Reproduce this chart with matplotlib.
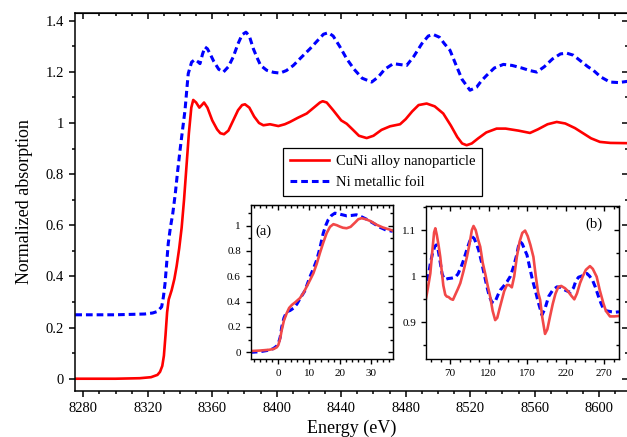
import matplotlib
matplotlib.use("Agg")
import matplotlib.pyplot as plt
from matplotlib.ticker import MultipleLocator, NullFormatter

plt.rcParams.update({
    "font.family": "serif",
    "font.serif": ["Liberation Serif", "DejaVu Serif"],
    "mathtext.fontset": "stix",
})

# ---- main spectra (energy in eV, normalized absorption) ----
cuni_e = [8275, 8300, 8315, 8322, 8326, 8327.6, 8329, 8330, 8331, 8332, 8333, 8334.8, 8336.5,
          8337.9, 8339.5, 8341, 8342.5, 8344, 8345.5, 8347, 8348.2, 8350, 8352, 8353.5, 8354.9,
          8357, 8360, 8363, 8365, 8367.3, 8370, 8373, 8376, 8378.5, 8380.3, 8383, 8386, 8389,
          8391.7, 8395.8, 8401, 8405, 8408.2, 8413, 8418.6, 8423, 8426.8, 8428.5, 8431, 8435,
          8440, 8443.4, 8447, 8451, 8455.8, 8460, 8465, 8470.3, 8476.5, 8480, 8484, 8488, 8493,
          8498, 8503.3, 8508, 8512, 8515, 8517.8, 8521, 8525, 8530, 8536.4, 8542, 8550, 8557.1,
          8562, 8568, 8573.7, 8579, 8585, 8590, 8595, 8600.5, 8607, 8618]
cuni_mu = [0.0, 0.0, 0.002, 0.006, 0.015, 0.027, 0.05, 0.09, 0.17, 0.26, 0.31, 0.346, 0.39,
           0.44, 0.51, 0.59, 0.7, 0.83, 0.96, 1.06, 1.09, 1.08, 1.06, 1.07, 1.08,
           1.06, 1.01, 0.975, 0.96, 0.956, 0.97, 1.01, 1.05, 1.07, 1.073, 1.06, 1.025, 1.0,
           0.991, 0.995, 0.988, 0.995, 1.004, 1.02, 1.037, 1.06, 1.08, 1.085, 1.08, 1.05,
           1.01, 0.997, 0.975, 0.95, 0.941, 0.95, 0.973, 0.987, 0.995, 1.015, 1.045, 1.07, 1.076,
           1.065, 1.037, 0.99, 0.945, 0.92, 0.913, 0.92, 0.94, 0.963, 0.978, 0.978, 0.97, 0.961,
           0.975, 0.995, 1.004, 0.998, 0.98, 0.96, 0.94, 0.926, 0.922, 0.921]

ni_e = [8275, 8300, 8318, 8323, 8325.5, 8327, 8328.6, 8329.7, 8330.7, 8331.7, 8332.7, 8334,
        8335.5, 8337, 8338.5, 8340, 8341.5, 8343.1, 8344.2, 8345.1, 8347.2, 8349.3, 8351,
        8352.4, 8354, 8355.5, 8357, 8358.6, 8361, 8364, 8366.9, 8370, 8373, 8376, 8378.5,
        8380.9, 8383, 8385.5, 8387.6, 8390, 8393.8, 8398, 8402, 8406, 8410.3, 8415, 8420.6,
        8425, 8429, 8432, 8435, 8439, 8443.4, 8448, 8453, 8458.9, 8463, 8467, 8472.3, 8477,
        8480.6, 8485, 8490, 8494, 8497.1, 8501, 8504, 8507.5, 8511, 8515, 8519.9, 8524, 8527,
        8530.2, 8535, 8540.6, 8546, 8552, 8557, 8561.3, 8566, 8571, 8576, 8579.9, 8584, 8589,
        8593, 8596.4, 8601, 8606.7, 8612, 8618]
ni_mu = [0.25, 0.25, 0.253, 0.257, 0.262, 0.27, 0.281, 0.32, 0.372, 0.45, 0.529, 0.59,
         0.646, 0.72, 0.81, 0.893, 0.97, 1.05, 1.13, 1.193, 1.238, 1.248, 1.24,
         1.232, 1.27, 1.297, 1.29, 1.271, 1.24, 1.21, 1.199, 1.22, 1.258, 1.31, 1.345,
         1.355, 1.34, 1.29, 1.258, 1.225, 1.206, 1.198, 1.195, 1.205, 1.225, 1.255, 1.29,
         1.32, 1.347, 1.353, 1.34, 1.3, 1.251, 1.21, 1.175, 1.16, 1.18, 1.21, 1.232, 1.228,
         1.225, 1.26, 1.31, 1.34, 1.346, 1.335, 1.31, 1.284, 1.23, 1.17, 1.128, 1.14, 1.165,
         1.186, 1.215, 1.229, 1.225, 1.215, 1.205, 1.199, 1.22, 1.25, 1.27, 1.273, 1.265, 1.24,
         1.22, 1.206, 1.18, 1.16, 1.158, 1.163]

# ---- inset (a): edge region, relative energy ----
a_cuni_x = [-9, -6, -3, -1.6, -0.5, 0, 0.6, 1.1, 1.8, 2.7, 3.5, 4.4, 5.5, 7.0, 8.2, 9.2, 10.3,
            11.4, 12.5, 13.5, 14.6, 15.7, 16.8, 17.9, 19, 20, 21, 22.2, 23.5, 25, 26, 27.1,
            28.5, 30, 32, 34, 36, 37.2]
a_cuni_y = [0.01, 0.014, 0.02, 0.026, 0.04, 0.058, 0.11, 0.176, 0.25, 0.308, 0.35, 0.374, 0.395,
            0.427, 0.47, 0.518, 0.57, 0.624, 0.7, 0.782, 0.865, 0.94, 0.99, 1.011, 1.003, 0.992,
            0.983, 0.979, 0.99, 1.025, 1.05, 1.058, 1.05, 1.035, 1.006, 0.985, 0.97, 0.961]
a_ni_x = [-9, -6, -3, -1.6, -0.5, 0, 0.6, 1.1, 1.8, 2.7, 3.8, 4.9, 6, 7.2, 8.5, 9.3, 10.3, 11.4,
          12.5, 13.5, 14.6, 15.4, 16.2, 17.3, 18.4, 20, 22.2, 23.8, 25.4, 27, 28.7, 30.8, 33,
          35, 37.2]
a_ni_y = [0.0, 0.005, 0.017, 0.03, 0.05, 0.07, 0.12, 0.2, 0.27, 0.32, 0.33, 0.348, 0.38, 0.43,
          0.48, 0.53, 0.597, 0.66, 0.73, 0.82, 0.94, 1.0, 1.045, 1.08, 1.098, 1.09, 1.077, 1.08,
          1.085, 1.07, 1.05, 1.02, 0.987, 0.965, 0.955]

# ---- inset (b): post-edge oscillations ----
b_cuni_x = [38.5, 41, 44.1, 47, 49, 50.6, 52.5, 55, 57, 59, 61, 63.5, 65.5, 67.8, 70.5, 73.5,
            77, 80, 83, 87, 91.6, 95, 98, 100.2, 103, 106, 108.9, 112, 115.3, 118.5, 121.8,
            125, 128.3, 131, 134, 137, 140, 143.4, 146.5, 149.9, 153, 156.4, 160, 163.5, 167.1,
            170.5, 174, 177.9, 181, 184, 186.6, 189.5, 193, 196, 199.5, 203, 206.5, 210.3, 214,
            219, 223, 227, 231, 234.5, 238.4, 242, 246, 251.3, 255, 260, 264, 268.6, 272, 277.3,
            283, 289]
b_cuni_y = [0.952, 0.975, 1.006, 1.06, 1.095, 1.104, 1.09, 1.065, 1.042, 1.01, 0.98, 0.96,
            0.956, 0.955, 0.951, 0.949, 0.962, 0.973, 0.985, 1.01, 1.042, 1.07, 1.1, 1.109, 1.1,
            1.08, 1.064, 1.03, 1.006, 0.98, 0.956, 0.925, 0.905, 0.91, 0.93, 0.949, 0.968, 0.981,
            0.981, 0.976, 1.0, 1.042, 1.075, 1.094, 1.099, 1.087, 1.068, 1.042, 1.0, 0.965,
            0.949, 0.91, 0.875, 0.885, 0.913, 0.94, 0.962, 0.977, 0.979, 0.974, 0.967, 0.958,
            0.95, 0.963, 0.985, 1.0, 1.014, 1.022, 1.016, 0.999, 0.97, 0.942, 0.925, 0.913,
            0.913, 0.914]
b_ni_x = [38.5, 41, 44.1, 47, 50, 51.9, 54, 56.5, 59.3, 61.5, 63.5, 67, 72, 76.5, 80, 84, 87.3,
          91, 95, 98.1, 101, 104, 106.8, 110, 114, 117.6, 121, 124, 126.3, 129, 132, 134.9,
          139, 143.6, 148, 152.2, 156, 158.5, 160.9, 163.5, 166.5, 169.6, 173, 177, 180.3, 184,
          189, 193, 197.6, 203, 208.5, 213, 219, 225.7, 230, 233, 236.5, 240, 243.5, 247.4,
          251, 255, 258.2, 262, 265.5, 268.6, 273, 279.4, 284, 289]
b_ni_y = [0.967, 0.995, 1.028, 1.05, 1.065, 1.068, 1.06, 1.035, 1.006, 0.996, 0.993, 0.995,
          0.996, 0.998, 1.005, 1.02, 1.035, 1.055, 1.075, 1.086, 1.082, 1.07, 1.057, 1.035,
          1.005, 0.977, 0.955, 0.944, 0.942, 0.948, 0.96, 0.97, 0.978, 0.988, 1.0, 1.021,
          1.045, 1.065, 1.075, 1.07, 1.058, 1.046, 1.02, 0.99, 0.97, 0.945, 0.916, 0.93, 0.956,
          0.97, 0.977, 0.976, 0.97, 0.965, 0.975, 0.99, 0.998, 1.0, 1.004, 1.006, 1.0, 0.99,
          0.977, 0.958, 0.942, 0.93, 0.925, 0.923, 0.922, 0.923]

RED = "#ff0000"
RED_INSET = "#f24848"
BLUE = "#0000ff"


def style_axes(ax, xmaj, xmin, ymaj, ymin, size, lab, lw=1.0, xoff=0.0, xminoff=0.0):
    ax.xaxis.set_major_locator(MultipleLocator(xmaj, offset=xoff))
    ax.xaxis.set_minor_locator(MultipleLocator(xmin, offset=xminoff))
    ax.yaxis.set_major_locator(MultipleLocator(ymaj))
    ax.yaxis.set_minor_locator(MultipleLocator(ymin))
    ax.tick_params(which="both", direction="out", top=False, right=False,
                   labelsize=lab, width=lw)
    ax.tick_params(which="major", length=size)
    ax.tick_params(which="minor", length=size * 0.55)
    for s in ax.spines.values():
        s.set_linewidth(lw)
    # mirrored ticks on top/right pointing inward
    top = ax.secondary_xaxis("top")
    top.xaxis.set_major_locator(MultipleLocator(xmaj, offset=xoff))
    top.xaxis.set_minor_locator(MultipleLocator(xmin, offset=xminoff))
    top.xaxis.set_major_formatter(NullFormatter())
    top.tick_params(which="both", direction="in", width=lw)
    top.tick_params(which="major", length=size)
    top.tick_params(which="minor", length=size * 0.55)
    right = ax.secondary_yaxis("right")
    right.yaxis.set_major_locator(MultipleLocator(ymaj))
    right.yaxis.set_minor_locator(MultipleLocator(ymin))
    right.yaxis.set_major_formatter(NullFormatter())
    right.tick_params(which="both", direction="in", width=lw)
    right.tick_params(which="major", length=size)
    right.tick_params(which="minor", length=size * 0.55)


def fmt(v, pos):
    return f"{v:g}"


fig = plt.figure(figsize=(6.27, 4.37), dpi=100)
ax = fig.add_axes([75 / 627, 46 / 437, 552.5 / 627, 378 / 437])

ax.plot(cuni_e, cuni_mu, color=RED, lw=1.9, label="CuNi alloy nanoparticle")
ax.plot(ni_e, ni_mu, color=BLUE, lw=2.2, dashes=(2.2, 1.3), label="Ni metallic foil")
ax.set_xlim(8274.85, 8617.6)
ax.set_ylim(-0.048, 1.43)
style_axes(ax, 40, 10, 0.2, 0.1, 4.5, 10.5, lw=1.1)
ax.yaxis.set_major_formatter(fmt)
ax.set_xlabel("Energy (eV)", fontsize=13, labelpad=3)
ax.set_ylabel("Normalized absorption", fontsize=13, labelpad=9)

leg = ax.legend(loc="upper left", bbox_to_anchor=((283 - 75) / 552.5, (391 - 148) / 378),
                borderaxespad=0, fontsize=10.5, fancybox=False, framealpha=1,
                edgecolor="black", handlelength=2.7, handletextpad=0.45,
                borderpad=0.45, labelspacing=0.55)
leg.get_frame().set_linewidth(0.9)

# inset (a)
axa = fig.add_axes([250.7 / 627, (437 - 359.3) / 437, 142 / 627, 154 / 437])
axa.plot(a_ni_x, a_ni_y, color=BLUE, lw=2.2, dashes=(2.2, 1.3))
axa.plot(a_cuni_x, a_cuni_y, color=RED_INSET, lw=1.9)
axa.set_xlim(-9, 37.2)
axa.set_ylim(-0.055, 1.16)
style_axes(axa, 10, 2, 0.2, 0.1, 3.5, 8, lw=1.0)
axa.yaxis.set_major_formatter(fmt)
axa.text(0.03, 0.83, "(a)", transform=axa.transAxes, fontsize=10.5, ha="left", va="center")

# inset (b)
axb = fig.add_axes([426 / 627, (437 - 359.3) / 437, 193 / 627, 153.6 / 437])
axb.plot(b_ni_x, b_ni_y, color=BLUE, lw=2.2, dashes=(2.2, 1.3))
axb.plot(b_cuni_x, b_cuni_y, color=RED_INSET, lw=1.9)
axb.set_xlim(38.5, 289)
axb.set_ylim(0.82, 1.153)
style_axes(axb, 50, 12.5, 0.1, 0.05, 3.5, 8, lw=1.0, xoff=20, xminoff=7.5)
axb.yaxis.set_major_formatter(fmt)
axb.text(0.87, 0.88, "(b)", transform=axb.transAxes, fontsize=10.5, ha="center", va="center")

fig.savefig("out.png", dpi=100)
